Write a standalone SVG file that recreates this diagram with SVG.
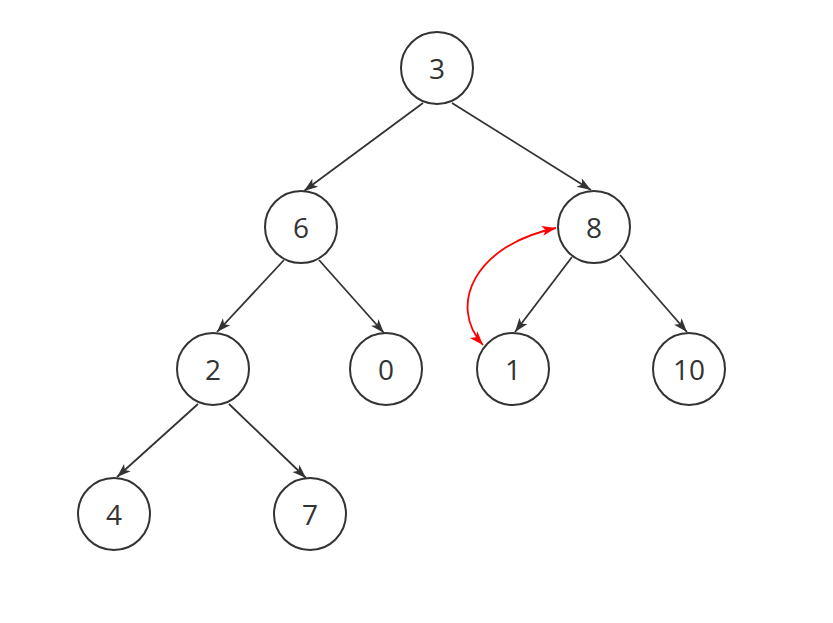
<svg xmlns="http://www.w3.org/2000/svg" width="833" height="623" viewBox="0 0 833 623">
<style>
.n{fill:#fff;stroke:#333;stroke-width:2}
.t{font-family:"Open Sans","Noto Sans",sans-serif;font-size:28px;fill:#333;text-anchor:middle;dominant-baseline:central}
.e{stroke:#333;stroke-width:1.8;fill:none;marker-end:url(#a)}
.r{stroke:#f00;stroke-width:1.8;fill:none;marker-end:url(#ar);marker-start:url(#ars)}
</style>
<defs>
<marker id="a" markerUnits="userSpaceOnUse" markerWidth="16" markerHeight="12" refX="14" refY="6" orient="auto"><path d="M0,1 L14,6 L0,11 L3.5,6 Z" fill="#333"/></marker>
<marker id="ar" markerUnits="userSpaceOnUse" markerWidth="16" markerHeight="12" refX="14" refY="6" orient="auto"><path d="M0,1 L14,6 L0,11 L3.5,6 Z" fill="#f00"/></marker>
<marker id="ars" markerUnits="userSpaceOnUse" markerWidth="16" markerHeight="12" refX="14" refY="6" orient="auto-start-reverse"><path d="M0,1 L14,6 L0,11 L3.5,6 Z" fill="#f00"/></marker>
</defs>
<rect width="833" height="623" fill="#fff"/>
<g id="connectors">
<line class="e" x1="423" y1="103" x2="304" y2="191"/>
<line class="e" x1="452" y1="103" x2="591" y2="190"/>
<line class="e" x1="284" y1="260" x2="217" y2="332"/>
<line class="e" x1="319" y1="260" x2="384" y2="333"/>
<line class="e" x1="572" y1="257" x2="515" y2="332"/>
<line class="e" x1="620" y1="255" x2="687" y2="332"/>
<line class="e" x1="198" y1="404" x2="117" y2="477"/>
<line class="e" x1="229" y1="404" x2="306" y2="478"/>
<path class="r" d="M483,345 C447,305 475,245 556,228"/>
</g>
<g id="n3"><circle class="n" cx="437" cy="68" r="36"/><text class="t" x="437" y="68">3</text></g>
<g id="n6"><circle class="n" cx="301" cy="227" r="36"/><text class="t" x="301" y="227">6</text></g>
<g id="n8"><circle class="n" cx="594" cy="227" r="36"/><text class="t" x="594" y="227">8</text></g>
<g id="n2"><circle class="n" cx="213" cy="369" r="36"/><text class="t" x="213" y="369">2</text></g>
<g id="n0"><circle class="n" cx="386" cy="369" r="36"/><text class="t" x="386" y="369">0</text></g>
<g id="n1"><circle class="n" cx="513" cy="369" r="36"/><text class="t" x="513" y="369">1</text></g>
<g id="n10"><circle class="n" cx="689" cy="369" r="36"/><text class="t" x="689" y="369">10</text></g>
<g id="n4"><circle class="n" cx="114" cy="514" r="36"/><text class="t" x="114" y="514">4</text></g>
<g id="n7"><circle class="n" cx="310" cy="514" r="36"/><text class="t" x="310" y="514">7</text></g>
</svg>
